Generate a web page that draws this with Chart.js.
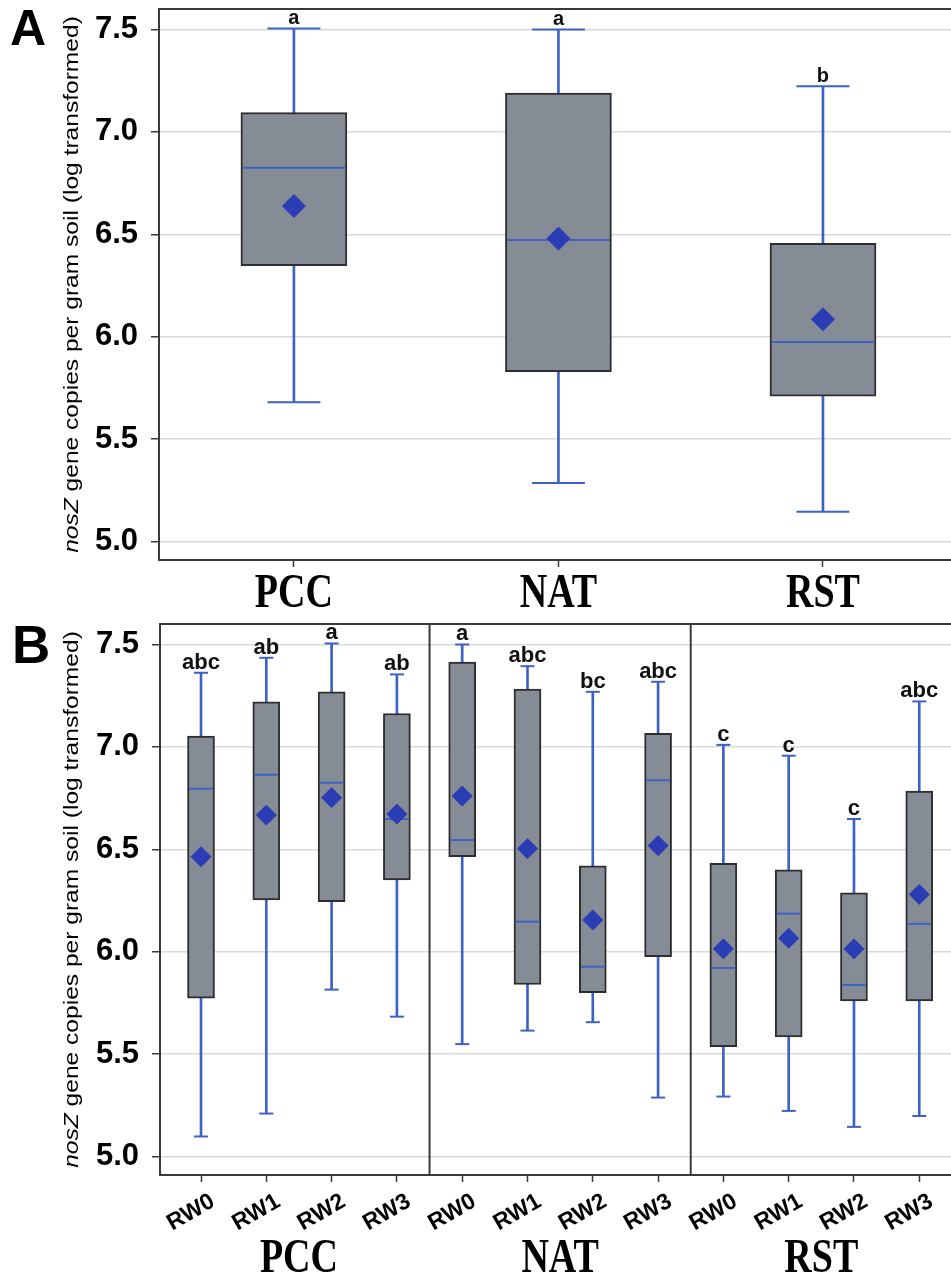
<!DOCTYPE html>
<html>
<head>
<meta charset="utf-8">
<script src="https://cdn.jsdelivr.net/npm/chart.js@4.4.1/dist/chart.umd.min.js"></script>
<style>
  html, body { margin: 0; padding: 0; background: #fff; }
  body { width: 951px; height: 1274px; position: relative; overflow: hidden; }
  canvas { position: absolute; left: 0; }
  #chartA { top: 0; }
  #chartB { top: 614px; }
</style>
</head>
<body>
<canvas id="chartA" width="951" height="614"></canvas>
<canvas id="chartB" width="951" height="660"></canvas>
<script>
// ---- Panel A: one box per site ----
const sitesA = ['PCC', 'NAT', 'RST'];
const lowA = [5.68, 5.286, 5.146];
const q1A = [6.347, 5.829, 5.71];
const medianA = [6.825, 6.472, 5.974];
const q3A = [7.094, 7.19, 6.456];
const highA = [7.505, 7.5, 7.223];
const meanA = [6.638, 6.479, 6.085];
const lettersA = ['a', 'a', 'b'];

// ---- Panel B: site x rewetting (RW0..RW3 inside each site) ----
const sitesB = ['PCC', 'NAT', 'RST'];
const rewetB = ['RW0', 'RW1', 'RW2', 'RW3'];
const lowB = [5.098, 5.21, 5.815, 5.683, 5.549, 5.615, 5.656, 5.288, 5.293, 5.223, 5.145, 5.198];
const q1B = [5.773, 6.253, 6.244, 6.35, 6.464, 5.84, 5.8, 5.976, 5.536, 5.584, 5.76, 5.76];
const medianB = [6.796, 6.864, 6.825, 6.648, 6.545, 6.147, 5.927, 6.837, 5.921, 6.186, 5.838, 6.136];
const q3B = [7.053, 7.22, 7.269, 7.163, 7.414, 7.282, 6.419, 7.066, 6.432, 6.40, 6.288, 6.784];
const highB = [7.362, 7.435, 7.505, 7.354, 7.5, 7.394, 7.269, 7.318, 7.01, 6.957, 6.648, 7.222];
const meanB = [6.464, 6.667, 6.752, 6.672, 6.76, 6.503, 6.155, 6.518, 6.014, 6.066, 6.014, 6.28];
const lettersB = ['abc', 'ab', 'a', 'ab', 'a', 'abc', 'bc', 'abc', 'c', 'c', 'c', 'abc'];

const yTicks = [5.0, 5.5, 6.0, 6.5, 7.0, 7.5];

// styles
const SANS = '"Liberation Sans", Arial, sans-serif';
const SERIF = '"Liberation Serif", "Times New Roman", serif';
const BOX_FILL = '#868c96';
const BOX_EDGE = '#2e2e2e';
const WHISKER = '#3d62c6';
const MEAN = '#2a3db4';
const GRID = '#dadada';
const AXIS = '#3a3a3a';

function boxDatasets(low, q1, med, q3, high, mean, size) {
  const idx = low.map((_, i) => i);
  return [
    { type: 'bar', order: 5, grouped: false, barThickness: 2, borderWidth: 0,
      backgroundColor: WHISKER,
      data: idx.map(i => ({ x: i, y: [low[i], high[i]] })) },
    { type: 'bar', order: 4, grouped: false, barThickness: size.box,
      backgroundColor: BOX_FILL, borderColor: BOX_EDGE, borderWidth: 2, borderSkipped: false,
      data: idx.map(i => ({ x: i, y: [q1[i], q3[i]] })) },
    { type: 'scatter', order: 3, pointStyle: 'line', pointRadius: size.cap, pointHoverRadius: size.cap,
      borderColor: WHISKER, borderWidth: 2,
      data: idx.flatMap(i => [{ x: i, y: low[i] }, { x: i, y: high[i] }]) },
    { type: 'scatter', order: 2, pointStyle: 'line', pointRadius: size.box / 2 - 1.5, pointHoverRadius: size.box / 2 - 1.5,
      borderColor: WHISKER, borderWidth: 2,
      data: idx.map(i => ({ x: i, y: med[i] })) },
    { type: 'scatter', order: 1, pointStyle: 'rectRot', pointRadius: size.mean, pointHoverRadius: size.mean,
      backgroundColor: MEAN, borderColor: MEAN, borderWidth: 1,
      data: idx.map(i => ({ x: i, y: mean[i] })) }
  ];
}

function yScale(width) {
  return {
    type: 'linear', min: 4.91, max: 7.6,
    afterBuildTicks: s => { s.ticks = yTicks.map(v => ({ value: v })); },
    afterFit: s => { s.width = width; s.paddingTop = 0; s.paddingBottom = 0; },
    ticks: { callback: v => v.toFixed(1), color: '#000', padding: 13,
      font: { family: SANS, size: 31, weight: 'bold' } },
    grid: { color: GRID, lineWidth: 1.5, tickColor: AXIS, tickLength: 8, tickWidth: 1.5 },
    border: { color: AXIS, width: 2 }
  };
}

function xScale(min, max, height, count, ticks) {
  return {
    type: 'linear', min, max, offset: false,
    afterBuildTicks: s => { s.ticks = Array.from({ length: count }, (_, i) => ({ value: i })); },
    afterFit: s => { s.height = height; s.paddingLeft = 0; s.paddingRight = 0; },
    ticks,
    grid: { offset: false, drawOnChartArea: false, tickColor: AXIS, tickLength: 7, tickWidth: 1.5 },
    border: { color: AXIS, width: 2 }
  };
}

// frame top, panel dividers, letters and titles
const annotate = {
  id: 'annotate',
  afterDraw(chart, args, o) {
    const { ctx, chartArea: a, scales: { x, y } } = chart;
    ctx.save();

    ctx.strokeStyle = AXIS;
    ctx.lineWidth = 2;
    ctx.beginPath();
    ctx.moveTo(a.left - 1, a.top);
    ctx.lineTo(a.right, a.top);
    (o.dividers || []).forEach(v => {
      const px = x.getPixelForValue(v);
      ctx.moveTo(px, a.top);
      ctx.lineTo(px, a.bottom);
    });
    ctx.stroke();

    // significance letters
    ctx.fillStyle = '#111';
    ctx.textAlign = 'center';
    ctx.textBaseline = 'alphabetic';
    ctx.font = `bold ${o.letterSize}px ${SANS}`;
    o.letters.forEach((t, i) => {
      ctx.fillText(t, x.getPixelForValue(i), y.getPixelForValue(o.highs[i]) - 4);
    });

    // site names under the axis
    ctx.fillStyle = '#000';
    ctx.font = `bold 38px ${SERIF}`;
    o.groups.forEach((g, i) => {
      ctx.save();
      ctx.translate(x.getPixelForValue(o.groupAt[i]), a.bottom + o.groupDrop);
      ctx.scale(1, 1.25);
      ctx.fillText(g, 0, 0);
      ctx.restore();
    });

    // panel letter
    ctx.textAlign = 'left';
    ctx.font = `bold ${o.panelSize}px ${SANS}`;
    ctx.fillText(o.panel, o.panelX, o.panelY);

    // y axis title, nosZ in italics
    const parts = [['italic', 'nosZ'], ['normal', ' gene copies per gram soil (log transformed)']];
    ctx.save();
    ctx.translate(72.5, (a.top + a.bottom) / 2);
    ctx.rotate(-Math.PI / 2);
    ctx.scale(1.17, 1);
    ctx.textBaseline = 'middle';
    let total = 0;
    parts.forEach(([st, t]) => { ctx.font = `${st} 21px ${SANS}`; total += ctx.measureText(t).width; });
    let cx = -total / 2;
    parts.forEach(([st, t]) => {
      ctx.font = `${st} 21px ${SANS}`;
      ctx.fillText(t, cx, 0);
      cx += ctx.measureText(t).width;
    });
    ctx.restore();

    ctx.restore();
  }
};

const common = {
  responsive: false,
  animation: false,
  events: [],
  plugins: { legend: { display: false }, tooltip: { enabled: false } }
};

new Chart(document.getElementById('chartA'), {
  type: 'bar',
  data: { datasets: boxDatasets(lowA, q1A, medianA, q3A, highA, meanA, { box: 106, cap: 26.5, mean: 11.5 }) },
  options: {
    ...common,
    layout: { autoPadding: false, padding: { top: 9, left: 0, right: 0, bottom: 0 } },
    scales: {
      x: xScale(-0.51, 2.484, 54, sitesA.length, { display: false }),
      y: yScale(159)
    },
    plugins: {
      ...common.plugins,
      annotate: {
        letters: lettersA, highs: highA, letterSize: 20,
        groups: sitesA, groupAt: [0, 1, 2], groupDrop: 47,
        panel: 'A', panelSize: 50, panelX: 10, panelY: 45
      }
    }
  },
  plugins: [annotate]
});

new Chart(document.getElementById('chartB'), {
  type: 'bar',
  data: { datasets: boxDatasets(lowB, q1B, medianB, q3B, highB, meanB, { box: 27, cap: 7, mean: 10 }) },
  options: {
    ...common,
    layout: { autoPadding: false, padding: { top: 10, left: 0, right: 0, bottom: 0 } },
    scales: {
      x: xScale(-0.628, 11.486, 99, lowB.length, {
        autoSkip: false, minRotation: 30, maxRotation: 30, labelOffset: 12, padding: 6, color: '#000',
        font: { family: SANS, size: 23, weight: 'bold' },
        callback: (v, i) => rewetB[i % rewetB.length]
      }),
      y: yScale(160)
    },
    plugins: {
      ...common.plugins,
      annotate: {
        letters: lettersB, highs: highB, letterSize: 22, dividers: [3.5, 7.5],
        groups: sitesB, groupAt: [1.5, 5.5, 9.5], groupDrop: 97,
        panel: 'B', panelSize: 53, panelX: 12, panelY: 49
      }
    }
  },
  plugins: [annotate]
});
</script>
</body>
</html>
